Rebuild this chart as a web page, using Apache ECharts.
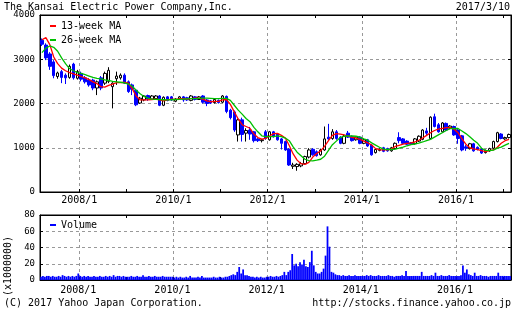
<!DOCTYPE html>
<html><head><meta charset="utf-8">
<script src="https://cdn.jsdelivr.net/npm/echarts@6/dist/echarts.min.js"></script>
<style>html,body{margin:0;padding:0;background:#fff}#c{width:512px;height:310px}</style>
</head><body><div id="c"></div>
<script>
const chartTitle = 'The Kansai Electric Power Company,Inc.';
const dateLabel = '2017/3/10';
const copyright = '(C) 2017 Yahoo Japan Corporation.';
const siteUrl = 'http://stocks.finance.yahoo.co.jp';
const volumeUnit = '(x1000000)';
const seriesNames = ['13-week MA', '26-week MA', 'Volume'];

// monthly categories 2007/3 .. 2017/2
const months = [];
for (let k = 0; k < 120; k++) { const t = 2 + k; months.push((2007 + Math.floor(t / 12)) + '/' + ((t % 12) + 1)); }
// half-month categories for volume
const volCats = [];
months.forEach(m => { volCats.push(m); volCats.push(m); });

// monthly OHLC (yen)
const opens = [
 3430,3320,3120,2940,2610,2720,2640,2590,2890,2570,
 2680,2580,2530,2530,2350,2580,2460,2500,2380,2560,2580,2640,
 2490,2420,2300,2010,2080,2180,2100,2110,2170,1960,2150,2150,
 2050,2110,2150,2130,2070,2150,2090,2170,2080,2060,2020,2070,
 2030,2160,1850,1810,1290,1630,1330,1400,1360,1200,1160,1360,
 1180,1360,1310,1200,1140,970,580,575,590,640,790,965,
 910,840,950,1240,1210,1360,1240,1100,1330,1250,1180,1240,
 1100,1180,1060,890,940,1000,980,930,980,1230,1200,1150,
 1110,1090,1150,1190,1380,1210,1700,1520,1360,1550,1440,1480,
 1400,1270,1020,980,1090,1010,970,890,930,990,1140,1310,
 1200,1230];
const closes = [
 3340,3030,2840,2630,2690,2590,2580,2840,2580,2720,
 2550,2490,2420,2350,2490,2350,2680,2750,2460,2620,2640,2460,
 2270,2320,1970,2120,2170,2100,2170,2170,1960,2140,2070,2080,
 2100,2150,2080,2080,2170,2090,2150,2030,2000,2010,2090,2020,
 2170,1820,1680,1400,1630,1300,1390,1310,1160,1160,1180,1210,
 1360,1250,1180,1100,950,610,610,625,640,800,950,840,
 820,950,1200,1200,1360,1210,1100,1260,1240,1160,1240,1100,
 1180,1040,840,960,960,920,930,1000,1100,1160,1100,1080,
 1080,1200,1260,1400,1330,1690,1480,1360,1560,1400,1490,1290,
 1210,950,990,1090,930,960,880,940,980,1140,1340,1210,
 1230,1300];
const lows = [
 3300,2980,2760,2570,2560,2460,2440,2560,2540,2540,
 2500,2450,2380,2300,2190,2300,2420,2460,1890,2420,2540,2440,
 2240,2190,1940,1990,2050,2060,2080,2090,1940,1940,2050,2060,
 2030,2090,2040,2060,2050,2070,2080,2000,1940,1990,2000,2000,
 2010,1780,1640,1360,1140,1140,1140,1180,1120,1130,1120,1180,
 1160,1230,1160,960,930,590,520,480,560,620,760,820,
 800,820,930,1180,1180,1180,1080,1080,1220,1140,1160,1080,
 1080,1020,820,870,920,900,910,910,960,1100,1080,1060,
 1060,1070,1130,1170,1280,1190,1460,1340,1340,1380,1420,1270,
 1090,920,930,960,910,940,860,870,910,970,1120,1190,
 1180,1210];
const highs = [
 3470,3360,3160,2980,2720,2760,2680,2880,2920,2760,
 2720,2620,2570,2560,2520,2620,2720,2820,2480,2720,2680,2680,
 2520,2450,2320,2150,2190,2200,2190,2190,2190,2160,2170,2170,
 2120,2170,2170,2150,2190,2170,2170,2190,2100,2080,2110,2090,
 2190,2180,1880,1840,1660,1680,1440,1470,1380,1220,1200,1400,
 1380,1380,1330,1220,1160,990,660,650,680,820,990,990,
 940,980,1480,1540,1420,1400,1260,1300,1380,1280,1260,1260,
 1200,1200,1080,990,990,1020,1000,1020,1120,1350,1220,1170,
 1130,1220,1280,1420,1450,1710,1770,1560,1580,1570,1510,1500,
 1420,1290,1060,1110,1110,1030,990,960,1000,1160,1360,1330,
 1250,1320];

// moving averages sampled monthly (yen)
const ma13 = [
 3440,3490,3330,3050,2900,2800,2740,2700,2670,2640,
 2610,2580,2540,2490,2450,2380,2370,2410,2440,2470,2470,2480,
 2460,2330,2170,2080,2080,2080,2090,2100,2080,2060,2080,2100,
 2090,2110,2110,2100,2110,2120,2120,2100,2060,2040,2050,2050,
 2080,2090,1980,1810,1650,1520,1480,1440,1310,1230,1195,1210,
 1265,1320,1325,1280,1220,1050,860,720,640,626,670,790,
 870,930,1030,1160,1280,1320,1310,1290,1260,1235,1215,1190,
 1150,1110,1062,980,955,950,950,970,1030,1055,1080,1100,
 1110,1130,1170,1220,1280,1340,1390,1420,1440,1455,1455,1420,
 1340,1200,1080,1000,975,960,935,915,935,950,1010,1100,
 1160,1190];
const ma26 = [
 3150,3250,3300,3270,3180,3030,2900,2790,2740,2700,
 2680,2650,2620,2590,2570,2555,2535,2520,2500,2490,2480,2465,
 2440,2390,2300,2220,2160,2120,2100,2095,2090,2085,2080,2085,
 2090,2095,2100,2105,2110,2110,2115,2120,2120,2115,2110,2110,
 2115,2115,2070,1960,1850,1760,1660,1590,1460,1360,1270,1250,
 1250,1250,1270,1250,1220,1160,1020,900,820,740,710,705,
 720,740,810,940,1070,1150,1230,1260,1270,1265,1260,1240,
 1200,1170,1110,1060,1010,970,960,960,970,990,1015,1045,
 1070,1085,1105,1130,1160,1190,1240,1290,1340,1390,1430,1440,
 1435,1380,1320,1250,1170,1100,990,940,935,945,990,1015,
 1060,1100];

// volume per half month (x1,000,000 shares)
const volume = [
 4,5,4,5,5,4,5,4,4,5,4,6,5,4,5,4,5,4,5,8,
 5,4,5,4,5,4,4,5,4,4,5,4,4,5,4,5,4,6,4,5,5,4,5,4,
 4,4,5,4,4,5,4,4,6,4,4,5,4,4,5,4,4,4,5,4,4,4,4,4,
 3,4,3,4,3,3,4,3,5,3,3,3,4,3,5,3,3,3,3,3,4,3,3,4,
 3,3,4,4,5,6,7,6,10,16,8,13,6,6,5,4,4,3,4,3,4,3,3,4,
 4,5,4,4,5,4,5,6,10,6,10,12,32,18,20,17,22,19,25,17,16,22,36,18,
 10,8,8,10,14,30,66,41,10,9,7,6,6,5,6,5,5,6,5,5,6,5,5,5,
 5,5,6,5,6,5,5,5,6,5,5,5,5,6,5,5,4,5,5,5,6,5,11,5,
 5,5,5,5,5,5,10,5,5,5,5,6,5,9,5,5,6,5,5,5,6,5,5,5,
 5,5,6,18,9,13,7,6,5,9,5,5,6,5,5,5,4,5,5,5,5,9,5,5,
 5,5,5,5];

const FONT = '"DejaVu Sans Mono", monospace';
const isJan = v => /\/1$/.test(v);
const evenYear = v => parseInt(v, 10) % 2 === 0;
const grid = { type: [3, 3], color: '#999', width: 1 };
const blk = { color: '#000', width: 1 };
const lab = { fontFamily: FONT, fontSize: 10, color: '#000' };
const ylab = { fontFamily: FONT, fontSize: 9, color: '#000', formatter: v => String(v) };

const ohlc = opens.map((o, i) => [o, closes[i], lows[i], highs[i]]);

function xAx(gridIndex, data, tickFn, majorFn, pos, showLabel, margin) {
  return {
    type: 'category', gridIndex, data, position: pos, boundaryGap: true,
    axisLine: { show: true, lineStyle: blk, onZero: false },
    axisTick: { show: true, inside: true, length: 3, interval: tickFn, lineStyle: blk },
    splitLine: { show: showLabel, interval: majorFn, lineStyle: grid },
    axisLabel: Object.assign({ show: showLabel, interval: majorFn, margin, padding: [0, 4, 0, 0] }, lab)
  };
}
const mTick = (i, v) => isJan(v);
const mMajor = (i, v) => isJan(v) && evenYear(v);
const vTick = (i, v) => i % 2 === 0 && isJan(v);
const vMajor = (i, v) => i % 2 === 0 && isJan(v) && evenYear(v);

const chart = echarts.init(document.getElementById('c'), null, { renderer: 'canvas' });
chart.setOption({
  animation: false,
  backgroundColor: '#fff',
  textStyle: { fontFamily: FONT },
  grid: [
    { left: 40, top: 15, width: 471, height: 177, show: true, borderColor: '#000', borderWidth: 1 },
    { left: 40, top: 215, width: 471, height: 65, show: true, borderColor: '#000', borderWidth: 1 }
  ],
  legend: [
    { data: [seriesNames[0], seriesNames[1]], orient: 'vertical', left: 50, top: 21, itemWidth: 6, itemHeight: 2,
      itemGap: 4, icon: 'rect', textStyle: lab, padding: 0 },
    { data: [seriesNames[2]], orient: 'vertical', left: 50, top: 220, itemWidth: 6, itemHeight: 2,
      icon: 'rect', textStyle: lab, padding: 0 }
  ],
  xAxis: [
    xAx(0, months, mTick, mMajor, 'bottom', true, 3),
    xAx(1, volCats, vTick, vMajor, 'bottom', true, 5),
    xAx(0, months, mTick, mMajor, 'top', false, 3),
    xAx(1, volCats, vTick, vMajor, 'top', false, 3)
  ],
  yAxis: [
    { type: 'value', gridIndex: 0, min: 0, max: 4000, interval: 1000,
      axisLine: { show: true, lineStyle: blk }, axisTick: { show: true, inside: true, length: 3, lineStyle: blk },
      axisLabel: Object.assign({ margin: 5 }, ylab), splitLine: { show: true, lineStyle: grid } },
    { type: 'value', gridIndex: 1, min: 0, max: 80, interval: 20,
      axisLine: { show: true, lineStyle: blk }, axisTick: { show: true, inside: true, length: 3, lineStyle: blk },
      axisLabel: Object.assign({ margin: 5 }, ylab), splitLine: { show: true, lineStyle: grid } },
    { type: 'value', gridIndex: 0, position: 'right', min: 0, max: 4000, interval: 1000,
      axisLine: { show: true, lineStyle: blk }, axisTick: { show: true, inside: true, length: 3, lineStyle: blk },
      axisLabel: { show: false }, splitLine: { show: false } },
    { type: 'value', gridIndex: 1, position: 'right', min: 0, max: 80, interval: 20,
      axisLine: { show: true, lineStyle: blk }, axisTick: { show: true, inside: true, length: 3, lineStyle: blk },
      axisLabel: { show: false }, splitLine: { show: false } }
  ],
  series: [
    { type: 'candlestick', name: 'price', xAxisIndex: 0, yAxisIndex: 0, data: ohlc, barWidth: 3,
      itemStyle: { color: '#ffffff', color0: '#0000ff', borderColor: '#000000', borderColor0: '#0000ff', borderWidth: 1 } },
    { type: 'line', name: seriesNames[0], xAxisIndex: 0, yAxisIndex: 0, data: ma13, symbol: 'none',
      color: '#ff0000', lineStyle: { color: '#ff0000', width: 1.3 } },
    { type: 'line', name: seriesNames[1], xAxisIndex: 0, yAxisIndex: 0, data: ma26, symbol: 'none',
      color: '#00c000', lineStyle: { color: '#00c000', width: 1.3 } },
    { type: 'bar', name: seriesNames[2], xAxisIndex: 1, yAxisIndex: 1, data: volume, color: '#0000ff',
      barCategoryGap: '10%', itemStyle: { color: '#0000ff' } }
  ],
  graphic: [
    { type: 'text', left: 4, top: 2, style: { text: chartTitle, font: '10px ' + FONT, fill: '#000' } },
    { type: 'text', right: 2, top: 2, style: { text: dateLabel, font: '10px ' + FONT, fill: '#000' } },
    { type: 'text', left: 4, top: 298, style: { text: copyright, font: '10px ' + FONT, fill: '#000' } },
    { type: 'text', right: 1, top: 298, style: { text: siteUrl, font: '10px ' + FONT, fill: '#000' } },
    { type: 'text', x: 8, y: 266, rotation: Math.PI / 2,
      style: { text: volumeUnit, font: '10px ' + FONT, fill: '#000', align: 'center', verticalAlign: 'middle' } }
  ]
});
</script></body></html>
